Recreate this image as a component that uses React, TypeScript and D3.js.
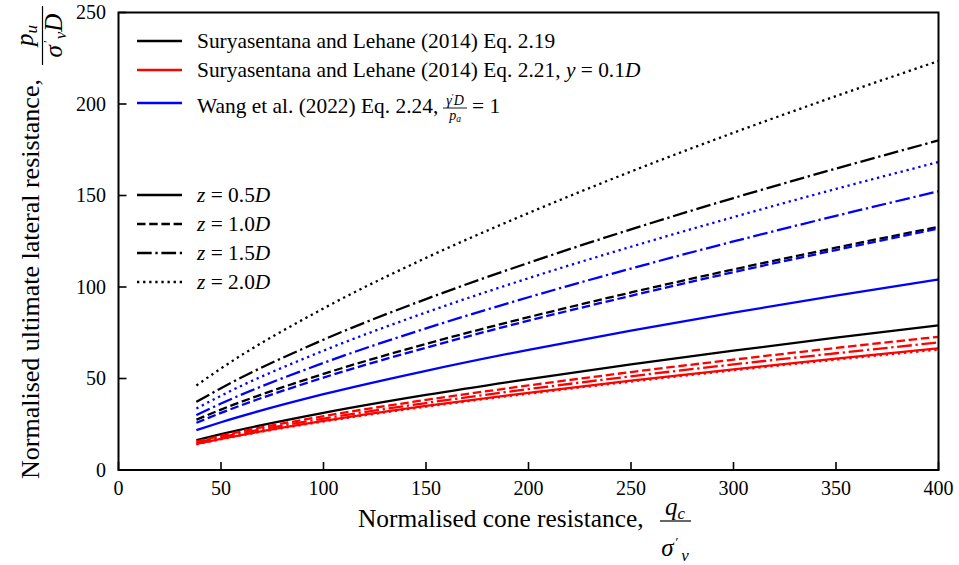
import React from 'react';
import * as d3 from 'd3';

// ---- data ----
const qc = [38, 50, 100, 150, 200, 250, 300, 350, 400];

// Suryasentana and Lehane (2014) Eq. 2.19 (black)
const blackZ05 = [16.3, 19.6, 31.2, 41.0, 49.7, 57.7, 65.2, 72.3, 79.0];
const blackZ10 = [27.5, 33.0, 52.5, 68.9, 83.5, 97.0, 109.6, 121.5, 132.9];
const blackZ15 = [37.2, 44.7, 71.2, 93.4, 113.2, 131.5, 148.6, 164.7, 180.1];
const blackZ20 = [46.2, 55.5, 88.3, 115.9, 140.4, 163.1, 184.3, 204.3, 223.5];

// Suryasentana and Lehane (2014) Eq. 2.21, y = 0.1D (red)
const redZ05 = [14.2, 17.0, 26.8, 35.0, 42.2, 48.8, 55.0, 60.9, 66.5];
const redZ10 = [15.6, 18.7, 29.4, 38.3, 46.2, 53.5, 60.3, 66.7, 72.8];
const redZ15 = [15.0, 17.9, 28.1, 36.6, 44.2, 51.2, 57.7, 63.8, 69.7];
const redZ20 = [14.0, 16.8, 26.5, 34.6, 41.7, 48.3, 54.5, 60.3, 65.8];

// Wang et al. (2022) Eq. 2.24 (blue)
const blueZ05 = [21.8, 26.1, 41.4, 54.2, 65.7, 76.2, 86.0, 95.3, 104.1];
const blueZ10 = [25.8, 31.2, 50.5, 66.8, 81.6, 95.2, 108.1, 120.2, 131.9];
const blueZ15 = [30.0, 36.3, 58.5, 77.4, 94.4, 110.1, 124.9, 138.9, 152.3];
const blueZ20 = [33.6, 40.6, 65.2, 86.1, 104.8, 122.0, 138.2, 153.6, 168.3];

const depthLabels = ['0.5', '1.0', '1.5', '2.0'];
const xTicks = [0, 50, 100, 150, 200, 250, 300, 350, 400];
const yTicks = [0, 50, 100, 150, 200, 250];

// ---- styles ----
const LW = 2.3;
const dashes = ['none', '8.5 3.7', '14.7 3.7 2.3 3.7', '2.3 3.8'];
const SERIF = '"Liberation Serif", "Times New Roman", serif';

const series = [
  { values: blackZ05, color: '#000000', dash: 0 },
  { values: blackZ10, color: '#000000', dash: 1 },
  { values: blackZ15, color: '#000000', dash: 2 },
  { values: blackZ20, color: '#000000', dash: 3 },
  { values: redZ05, color: '#ff0000', dash: 0 },
  { values: redZ10, color: '#ff0000', dash: 1 },
  { values: redZ15, color: '#ff0000', dash: 2 },
  { values: redZ20, color: '#ff0000', dash: 3 },
  { values: blueZ05, color: '#0000ff', dash: 0 },
  { values: blueZ10, color: '#0000ff', dash: 1 },
  { values: blueZ15, color: '#0000ff', dash: 2 },
  { values: blueZ20, color: '#0000ff', dash: 3 },
];

const W = 959;
const H = 565;
const L = 118.5, R = 938.5, T = 12.5, B = 470;

export default function App() {
  const x = d3.scaleLinear().domain([0, 400]).range([L, R]);
  const y = d3.scaleLinear().domain([0, 250]).range([B, T]);
  const line = d3
    .line<number>()
    .x((_, i) => x(qc[i]))
    .y((d) => y(d))
    .curve(d3.curveMonotoneX);

  const legendLineX1 = 137, legendLineX2 = 182, legendTextX = 197;
  const fs = 21.4;

  return (
    <svg
      width={W}
      height={H}
      style={{ position: 'absolute', left: 0, top: 0, background: '#fff' }}
      fontFamily={SERIF}
    >
      <rect x={0} y={0} width={W} height={H} fill="#fff" />
      <defs>
        <clipPath id="plotclip">
          <rect x={L} y={T} width={R - L} height={B - T} />
        </clipPath>
      </defs>

      {/* curves */}
      <g clipPath="url(#plotclip)">
        {series.map((s, i) => (
          <path
            key={i}
            d={line(s.values) || ''}
            fill="none"
            stroke={s.color}
            strokeWidth={LW}
            strokeDasharray={dashes[s.dash]}
            strokeLinecap="butt"
          />
        ))}
      </g>

      {/* ticks (inward) */}
      {xTicks.map((t) => (
        <g key={'xt' + t}>
          <line x1={x(t)} x2={x(t)} y1={B} y2={B - 8} stroke="#000" strokeWidth={1.6} />
          <text x={x(t)} y={494.5} fontSize={20} textAnchor="middle" fill="#000">
            {t}
          </text>
        </g>
      ))}
      {yTicks.map((t) => (
        <g key={'yt' + t}>
          <line x1={L} x2={L + 8} y1={y(t)} y2={y(t)} stroke="#000" strokeWidth={1.6} />
          <text x={106} y={y(t) + 6.8} fontSize={20} textAnchor="end" fill="#000">
            {t}
          </text>
        </g>
      ))}

      {/* frame */}
      <rect x={L} y={T} width={R - L} height={B - T} fill="none" stroke="#000" strokeWidth={2} />

      {/* x axis label */}
      <text x={358} y={527} fontSize={25.4} fill="#000">
        Normalised cone resistance,
      </text>
      <text x={675} y={515} fontSize={25} textAnchor="middle" fill="#000">
        <tspan fontStyle="italic">q</tspan>
        <tspan fontStyle="italic" fontSize={17} dy={4}>c</tspan>
      </text>
      <line x1={660} x2={691} y1={521} y2={521} stroke="#000" strokeWidth={1.2} />
      <text x={675} y={556} fontSize={25} textAnchor="middle" fill="#000">
        <tspan fontStyle="italic">σ</tspan>
        <tspan fontSize={13} dy={-10} dx={2}>′</tspan>
        <tspan fontStyle="italic" fontSize={17} dy={15} dx={3}>v</tspan>
      </text>

      {/* y axis label */}
      <g transform="rotate(-90)">
        <text x={-479} y={39} fontSize={26} fill="#000">
          Normalised ultimate lateral resistance,
        </text>
        <text x={-35.5} y={33} fontSize={25} textAnchor="middle" fill="#000">
          <tspan fontStyle="italic">p</tspan>
          <tspan fontStyle="italic" fontSize={17} dy={4}>u</tspan>
        </text>
        <line x1={-65} x2={-6} y1={42.5} y2={42.5} stroke="#000" strokeWidth={1.2} />
        <text x={-35.5} y={62} fontSize={25} textAnchor="middle" fill="#000">
          <tspan fontStyle="italic">σ</tspan>
          <tspan fontSize={13} dy={-10} dx={2}>′</tspan>
          <tspan fontStyle="italic" fontSize={17} dy={14} dx={1}>v</tspan>
          <tspan fontStyle="italic" dy={-4}>D</tspan>
        </text>
      </g>

      {/* legend 1: methods */}
      <line x1={legendLineX1} x2={legendLineX2} y1={41} y2={41} stroke="#000" strokeWidth={LW} />
      <text x={legendTextX} y={47.8} fontSize={fs} fill="#000">
        Suryasentana and Lehane (2014) Eq. 2.19
      </text>
      <line x1={legendLineX1} x2={legendLineX2} y1={70} y2={70} stroke="#ff0000" strokeWidth={LW} />
      <text x={legendTextX} y={76.8} fontSize={fs} fill="#000">
        Suryasentana and Lehane (2014) Eq. 2.21,{' '}
        <tspan fontStyle="italic">y</tspan>
        <tspan> = 0.1</tspan>
        <tspan fontStyle="italic">D</tspan>
      </text>
      <line x1={legendLineX1} x2={legendLineX2} y1={103} y2={103} stroke="#0000ff" strokeWidth={LW} />
      <text x={legendTextX} y={113} fontSize={fs} fill="#000">
        Wang et al. (2022) Eq. 2.24,
      </text>
      <text x={455} y={105} fontSize={14} textAnchor="middle" fill="#000">
        <tspan fontStyle="italic">γ</tspan>
        <tspan fontSize={9} dy={-5}>′</tspan>
        <tspan fontStyle="italic" dy={5}>D</tspan>
      </text>
      <line x1={443} x2={467} y1={108} y2={108} stroke="#000" strokeWidth={0.9} />
      <text x={455} y={119.5} fontSize={14} textAnchor="middle" fill="#000">
        <tspan fontStyle="italic">p</tspan>
        <tspan fontStyle="italic" fontSize={9.5} dy={2}>a</tspan>
      </text>
      <text x={472} y={113} fontSize={fs} fill="#000">
        = 1
      </text>

      {/* legend 2: depths */}
      {depthLabels.map((lab, i) => {
        const ly = 195 + i * 29;
        return (
          <g key={'dl' + i}>
            <line
              x1={legendLineX1}
              x2={legendLineX2}
              y1={ly}
              y2={ly}
              stroke="#000"
              strokeWidth={LW}
              strokeDasharray={dashes[i]}
            />
            <text x={legendTextX} y={ly + 7} fontSize={fs} fill="#000">
              <tspan fontStyle="italic">z</tspan>
              <tspan> = {lab}</tspan>
              <tspan fontStyle="italic">D</tspan>
            </text>
          </g>
        );
      })}
    </svg>
  );
}
